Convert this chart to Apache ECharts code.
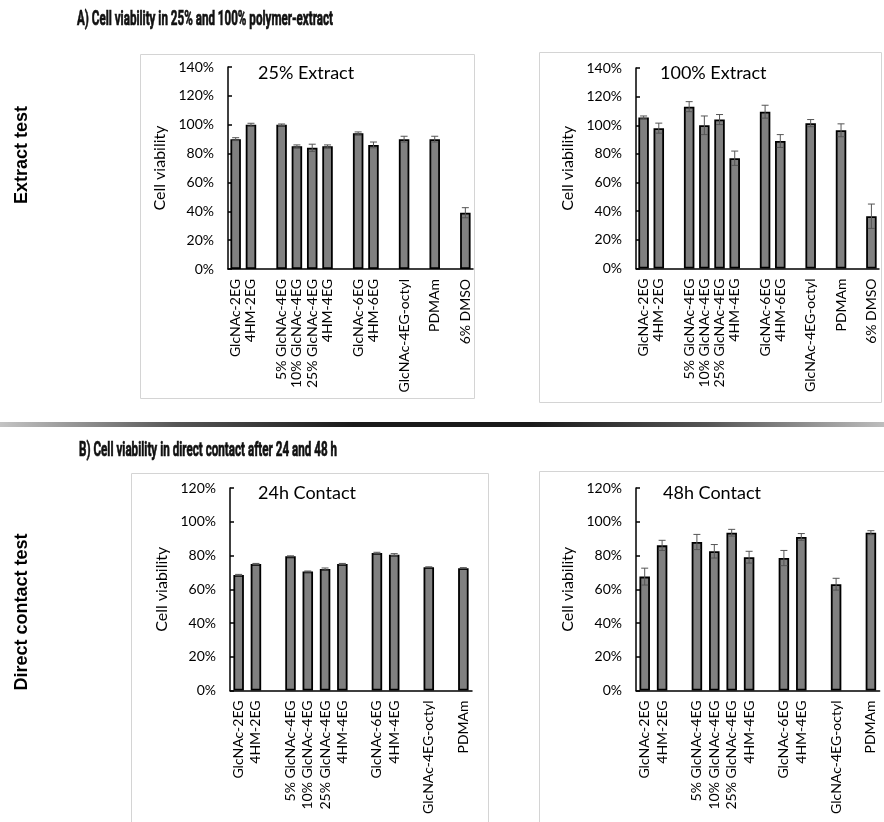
<!DOCTYPE html>
<html>
<head>
<meta charset="utf-8">
<script src="https://cdn.jsdelivr.net/npm/echarts@6/dist/echarts.min.js"></script>
<style>
html,body{margin:0;padding:0;background:#fff;}
#chart{width:884px;height:822px;}
</style>
</head>
<body>
<div id="chart"></div>
<script>
// ---------- DATA ----------
const extractCategories = ['GlcNAc-2EG', '4HM-2EG', '5% GlcNAc-4EG', '10% GlcNAc-4EG', '25% GlcNAc-4EG', '4HM-4EG', 'GlcNAc-6EG', '4HM-6EG', 'GlcNAc-4EG-octyl', 'PDMAm', '6% DMSO'];
const extractGroups = [2, 4, 2, 1, 1, 1];
const extract25 = [90, 100, 100, 85, 84, 85, 94, 86, 90, 90, 39];
const extract25Err = [1, 1, 0.5, 1, 2.5, 1, 1, 2, 2, 2, 3.5];
const extract100 = [105.5, 98, 113, 100, 104, 77, 109.5, 89, 101.5, 96.5, 36.5];
const extract100Err = [1, 3.5, 3.5, 6.5, 3.5, 5, 4.5, 4.5, 2.5, 4.5, 8.5];

const contactCategories = ['GlcNAc-2EG', '4HM-2EG', '5% GlcNAc-4EG', '10% GlcNAc-4EG', '25% GlcNAc-4EG', '4HM-4EG', 'GlcNAc-6EG', '4HM-4EG', 'GlcNAc-4EG-octyl', 'PDMAm'];
const contactGroups = [2, 4, 2, 1, 1];
const contact24 = [68.5, 75, 79.5, 70.5, 72, 75, 81.5, 80.5, 73, 72.5];
const contact24Err = [0.3, 0.3, 0.3, 0.3, 0.6, 0.3, 0.4, 0.6, 0.3, 0.3];
const contact48 = [67.5, 86, 88, 82.5, 93.5, 79, 78.5, 91, 63, 93.5];
const contact48Err = [5, 3, 4.5, 4, 2, 3.5, 4.5, 2, 3.5, 1.2];

const extractTicks = { min: 0, max: 140, interval: 20 };
const contactTicks = { min: 0, max: 120, interval: 20 };

// ---------- BUILD SLOTS (empty slot between groups) ----------
function buildSlots(cats, groups, vals, errs) {
  const slots = [], v = [], e = [];
  let k = 0;
  groups.forEach((g, gi) => {
    if (gi > 0) { slots.push(''); v.push('-'); e.push(null); }
    for (let i = 0; i < g; i++) { slots.push(cats[k]); v.push(vals[k]); e.push(errs[k]); k++; }
  });
  return { slots, v, e };
}

const panels = [
  { b: buildSlots(extractCategories, extractGroups, extract25, extract25Err), ticks: extractTicks,
    grid: { left: 228, top: 67, width: 245, height: 202 }, label: '25% Extract', lx: 258, ly: 73 },
  { b: buildSlots(extractCategories, extractGroups, extract100, extract100Err), ticks: extractTicks,
    grid: { left: 636, top: 68, width: 243, height: 200.5 }, label: '100% Extract', lx: 660, ly: 73 },
  { b: buildSlots(contactCategories, contactGroups, contact24, contact24Err), ticks: contactTicks,
    grid: { left: 230, top: 488, width: 242, height: 202.5 }, label: '24h Contact', lx: 258, ly: 493 },
  { b: buildSlots(contactCategories, contactGroups, contact48, contact48Err), ticks: contactTicks,
    grid: { left: 636, top: 488, width: 243.6, height: 202.5 }, label: '48h Contact', lx: 663, ly: 493 }
];

const FONT = 'Lato';
const grids = [], xAxes = [], yAxes = [], series = [];
panels.forEach((p, i) => {
  grids.push(Object.assign({ containLabel: false }, p.grid));
  xAxes.push({
    gridIndex: i, type: 'category', data: p.b.slots, boundaryGap: true,
    axisLine: { lineStyle: { color: '#000', width: 1.5 } },
    axisTick: { show: false },
    axisLabel: { rotate: 90, interval: 0, fontSize: 14, fontFamily: FONT, color: '#000', margin: 10 }
  });
  yAxes.push({
    gridIndex: i, type: 'value', min: p.ticks.min, max: p.ticks.max, interval: p.ticks.interval,
    axisLine: { show: true, lineStyle: { color: '#000', width: 1.5 } },
    axisTick: { show: true, inside: true, length: 4, lineStyle: { color: '#000', width: 1.5 } },
    splitLine: { show: false },
    axisLabel: { formatter: '{value}%', fontSize: 14, fontFamily: FONT, color: '#000', margin: 14 },
    name: 'Cell viability', nameLocation: 'middle', nameGap: 60,
    nameTextStyle: { fontSize: 16, fontFamily: FONT, color: '#000' }
  });
  series.push({
    type: 'bar', xAxisIndex: i, yAxisIndex: i, data: p.b.v, barWidth: 10.5,
    itemStyle: { color: '#808080', borderColor: '#000', borderWidth: 1.8 },
    silent: true, animation: false
  });
  const errData = [];
  p.b.e.forEach((err, idx) => { if (err !== null) errData.push([idx, p.b.v[idx], err]); });
  series.push({
    type: 'custom', xAxisIndex: i, yAxisIndex: i, data: errData, z: 5, animation: false, silent: true,
    renderItem: function (params, api) {
      const x = api.value(0), val = api.value(1), err = api.value(2);
      const hi = api.coord([x, val + err]);
      const lo = api.coord([x, val - err]);
      const w = 3.5;
      const st = { stroke: '#555', lineWidth: 1 };
      return { type: 'group', children: [
        { type: 'line', shape: { x1: hi[0], y1: hi[1], x2: lo[0], y2: lo[1] }, style: st },
        { type: 'line', shape: { x1: hi[0] - w, y1: hi[1], x2: hi[0] + w, y2: hi[1] }, style: st },
        { type: 'line', shape: { x1: lo[0] - w, y1: lo[1], x2: lo[0] + w, y2: lo[1] }, style: st }
      ] };
    }
  });
});

// ---------- graphics ----------
function measure(text, font) {
  const c = document.createElement('canvas').getContext('2d');
  c.font = font; return c.measureText(text).width;
}
const titleSize = 20.5;
const titleA = 'A) Cell viability in 25% and 100% polymer-extract';
const titleB = 'B) Cell viability in direct contact after 24 and 48 h';
const sA = 256 / measure(titleA, 'bold ' + titleSize + 'px Roboto');
const sB = 258 / measure(titleB, 'bold ' + titleSize + 'px Roboto');
const titleStyle = { fontSize: titleSize, fontWeight: 'bold', fontFamily: 'Roboto', fill: '#111', stroke: '#111', lineWidth: 0.7, verticalAlign: 'middle' };

const graphics = [
  // panel frames
  { type: 'rect', shape: { x: 140.5, y: 54.5, width: 334, height: 344 }, style: { fill: 'none', stroke: '#d4d4d4', lineWidth: 1 }, z: -1 },
  { type: 'rect', shape: { x: 539.5, y: 52.5, width: 342, height: 350 }, style: { fill: 'none', stroke: '#d4d4d4', lineWidth: 1 }, z: -1 },
  { type: 'rect', shape: { x: 131.5, y: 473.5, width: 357, height: 360 }, style: { fill: 'none', stroke: '#d4d4d4', lineWidth: 1 }, z: -1 },
  { type: 'rect', shape: { x: 539.5, y: 471.5, width: 360, height: 360 }, style: { fill: 'none', stroke: '#d4d4d4', lineWidth: 1 }, z: -1 },
  // separator
  { type: 'rect', shape: { x: 0, y: 422, width: 884, height: 5 },
    style: { fill: new echarts.graphic.LinearGradient(0, 0, 1, 0, [
      { offset: 0, color: '#c4c4c4' }, { offset: 0.2, color: '#555' }, { offset: 0.4, color: '#1a1a1a' },
      { offset: 0.6, color: '#1a1a1a' }, { offset: 0.8, color: '#555' }, { offset: 1, color: '#bdbdbd' }]) } },
  // section titles
  { type: 'text', x: 77, y: 20, scaleX: sA, style: Object.assign({ text: titleA }, titleStyle) },
  { type: 'text', x: 79, y: 451, scaleX: sB, style: Object.assign({ text: titleB }, titleStyle) },
  // side labels
  { type: 'text', x: 22, y: 155, rotation: Math.PI / 2, style: { text: 'Extract test', fontSize: 18, fontWeight: 'bold', fontFamily: 'Liberation Sans', fill: '#000', align: 'center', verticalAlign: 'middle' } },
  { type: 'text', x: 22, y: 612, rotation: Math.PI / 2, style: { text: 'Direct contact test', fontSize: 18, fontWeight: 'bold', fontFamily: 'Liberation Sans', fill: '#000', align: 'center', verticalAlign: 'middle' } }
];
panels.forEach(p => {
  graphics.push({ type: 'text', x: p.lx, y: p.ly, style: { text: p.label, fontSize: 18, fontFamily: FONT, fill: '#000', verticalAlign: 'middle' } });
});

const chart = echarts.init(document.getElementById('chart'), null, { renderer: 'canvas', width: 884, height: 822 });
chart.setOption({
  animation: false,
  grid: grids, xAxis: xAxes, yAxis: yAxes, series: series,
  graphic: graphics
});
</script>
</body>
</html>
